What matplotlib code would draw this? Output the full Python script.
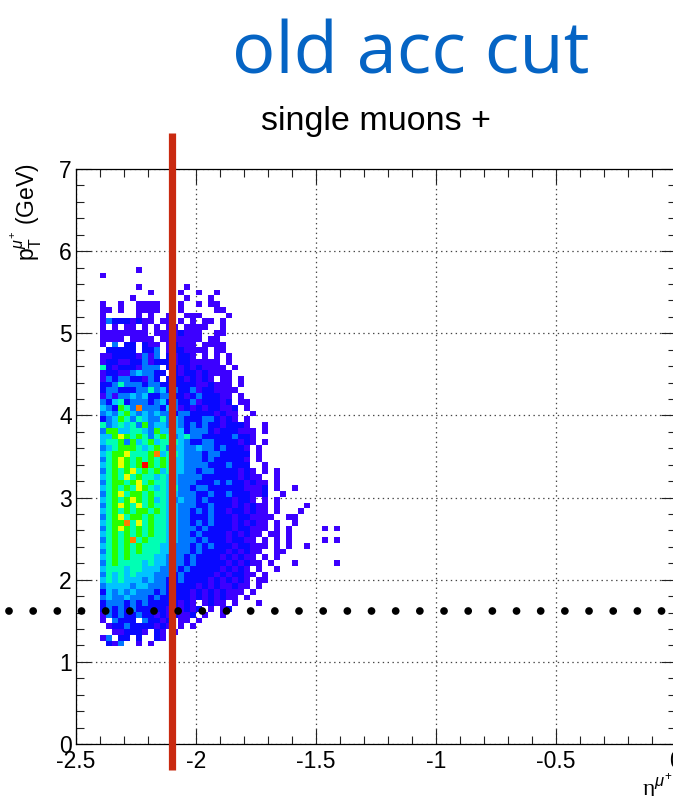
import numpy as np
import matplotlib
matplotlib.use("Agg")
import matplotlib.pyplot as plt
from matplotlib.colors import ListedColormap, BoundaryNorm

plt.rcParams['font.family'] = ['Liberation Sans', 'DejaVu Sans']
plt.rcParams['mathtext.fontset'] = 'custom'
plt.rcParams['mathtext.rm'] = 'Liberation Sans'
plt.rcParams['mathtext.it'] = 'Liberation Sans:italic'
plt.rcParams['lines.scale_dashes'] = False

# ---- data: 2D histogram ----
# one string per pT bin (top row first), one char per eta bin, '.' = empty, 1..9 = colour level
eta_first = -2.4      # low edge of first eta bin
eta_step = 0.025
pt_step = 0.07
row_top = 82          # pT bin index of the first string
rows = [
    "......1",
    "1",
    "",
    "......1.......1",
    "........1....1..1..1",
    ".....1........1...1",
    "1..1..1111...1..1.11",
    "11.1..1111...1.....11",
    "1.....1.1..1..111....1",
    "132221211.11.1.1.11.1",
    "1.1.11.1.1.11.1111..1",
    "11111111.11112111..11",
    "1111.1111.1111111.11",
    "1.3.22.211.12111.1111",
    ".22222.223.1221111.11",
    "1122221313.21221.1.1.1",
    "12211223122212211111.1",
    "5212221333.2212121111.1",
    "12211343322.2122121111",
    "1323322132.22212121.11.1",
    "2235333233222222112111.1",
    "23322233534232231221111",
    "1313343422332212322211.1",
    "3245233323423223122212.11",
    "43265383332431212122112.1",
    "34356434343323322221211..1",
    "23465354335343222332121.1",
    "5345453634434323232212221..1",
    "36644554364444233321222111.1",
    "44676565356534533222223221",
    "45563645645554322332222121.1",
    "3456665456534433433232221.1",
    "4566755568455433323322222.1",
    "3567656565654433323222221.1",
    "4567656965654433332223222..1",
    "35656756564544332332222121.1.1",
    "456575655454433332222221211..1",
    "3566567565544333222323221211.1",
    "4565657654545332332222221112.1..1",
    "3567566565544333223223222112..1",
    "45656765645434332322221221.1.1",
    "3567657565544333223222121211.1....1",
    "4565656656544332323221221211.1...1",
    "35675665655443322232221221111..11",
    "4566857565544332323222121211.1..1",
    "3567656565544333232222122111.1.1.....1.1",
    "456565656554433232222121211.11.1",
    "35656856555443332322212211.1.1.1.....1.1",
    "4565656555443332323222122111.1.1..1",
    "356565655544333232222121211..11",
    "45656555544333232222121211.1.1",
    "356555545443332322222121211.1...1......11",
    "4555455444333232222212121.1..1",
    "35454544433323222221212211.1",
    "4545444343322322221212121.11",
    "3444434433322222121211211.1",
    "243434333232222121212111.1",
    "34334333232222212121211.1",
    "2333232322222121.1211.1...1",
    "23232322222121212.1.12",
    "1323223221212112.1..1",
    "1.3222.32212.11.1",
    ".12232222121.1.1",
    "..112221.21.1",
    "13.22.2..21",
    ".213..1.1",
]
n_eta = 40

eta_cut = -2.1
pt_cut = 1.62

# ROOT-like rainbow palette, one colour per level
level_colors = ['#3c00ff', '#0808ff', '#0078ff', '#00c4ff', '#00ffb4',
                '#28ff00', '#ecff00', '#ff7a00', '#ff0000']

counts = np.array([[0 if ch == '.' else int(ch) for ch in r.ljust(n_eta, '.')[:n_eta]]
                   for r in rows], dtype=float)[::-1]
row_bottom = row_top - len(rows) + 1
x_edges = eta_first + eta_step * np.arange(n_eta + 1)
y_edges = pt_step * np.arange(row_bottom, row_top + 2)
counts = np.ma.masked_equal(counts, 0)

W, H = 673, 796
fig = plt.figure(figsize=(W / 100, H / 100), dpi=100)
ax = fig.add_axes([76 / W, (H - 744) / H, 600 / W, 575 / H])

cmap = ListedColormap(level_colors)
norm = BoundaryNorm(np.arange(0.5, 10.5, 1), cmap.N)
ax.pcolormesh(x_edges, y_edges, counts, cmap=cmap, norm=norm, zorder=2)

ax.set_xlim(-2.5, 0)
ax.set_ylim(0, 7)
ax.set_xticks(np.arange(-2.5, 0.01, 0.5))
ax.set_xticklabels(['-2.5', '-2', '-1.5', '-1', '-0.5', '0'])
ax.set_xticks(np.arange(-2.5, 0.01, 0.1), minor=True)
ax.set_yticks(np.arange(0, 7.1, 1))
ax.set_yticks(np.arange(0, 7.01, 0.2), minor=True)
ax.tick_params(which='both', direction='in', top=True, right=True,
               width=0.8, labelsize=16.5, color='#222222')
ax.tick_params(which='major', length=11)
ax.tick_params(which='minor', length=6)
ax.tick_params(axis='x', pad=4)
ax.tick_params(axis='y', pad=3)
ax.grid(True, which='major', color='#444444', lw=0.9, ls=(0, (1, 2.5)), zorder=1)
for s in ax.spines.values():
    s.set_linewidth(0.9)

# cuts
ax.plot([eta_cut, eta_cut], [7.44, -0.32], color='#c92a10', lw=5.2,
        solid_capstyle='butt', clip_on=False, zorder=5)
ax.plot([-2.78, -0.05], [pt_cut, pt_cut], color='black', lw=5.6,
        ls=(0, (0.001, 17.4)), dash_capstyle='round', clip_on=False, zorder=6)

# labels
fig.text(26 / W, 1 - 163 / H, r'$\mathrm{p}_{\mathrm{T}}^{\mu^{+}}$ (GeV)', rotation=90,
         ha='center', va='top', fontsize=16.5)
ax.text(0.995, -0.048, r'η$^{\mu^{+}}$', transform=ax.transAxes, ha='right', va='top',
        fontsize=17, family=['Liberation Serif', 'DejaVu Serif'])

fig.text(411 / W, 1 - 73 / H, 'old acc cut', color='#0564c4', fontsize=52,
         family=['Open Sans', 'DejaVu Sans'], ha='center', va='baseline')
fig.text(376 / W, 1 - 130 / H, 'single muons +', fontsize=24.5, ha='center', va='baseline')

fig.savefig('out.png', dpi=100)
